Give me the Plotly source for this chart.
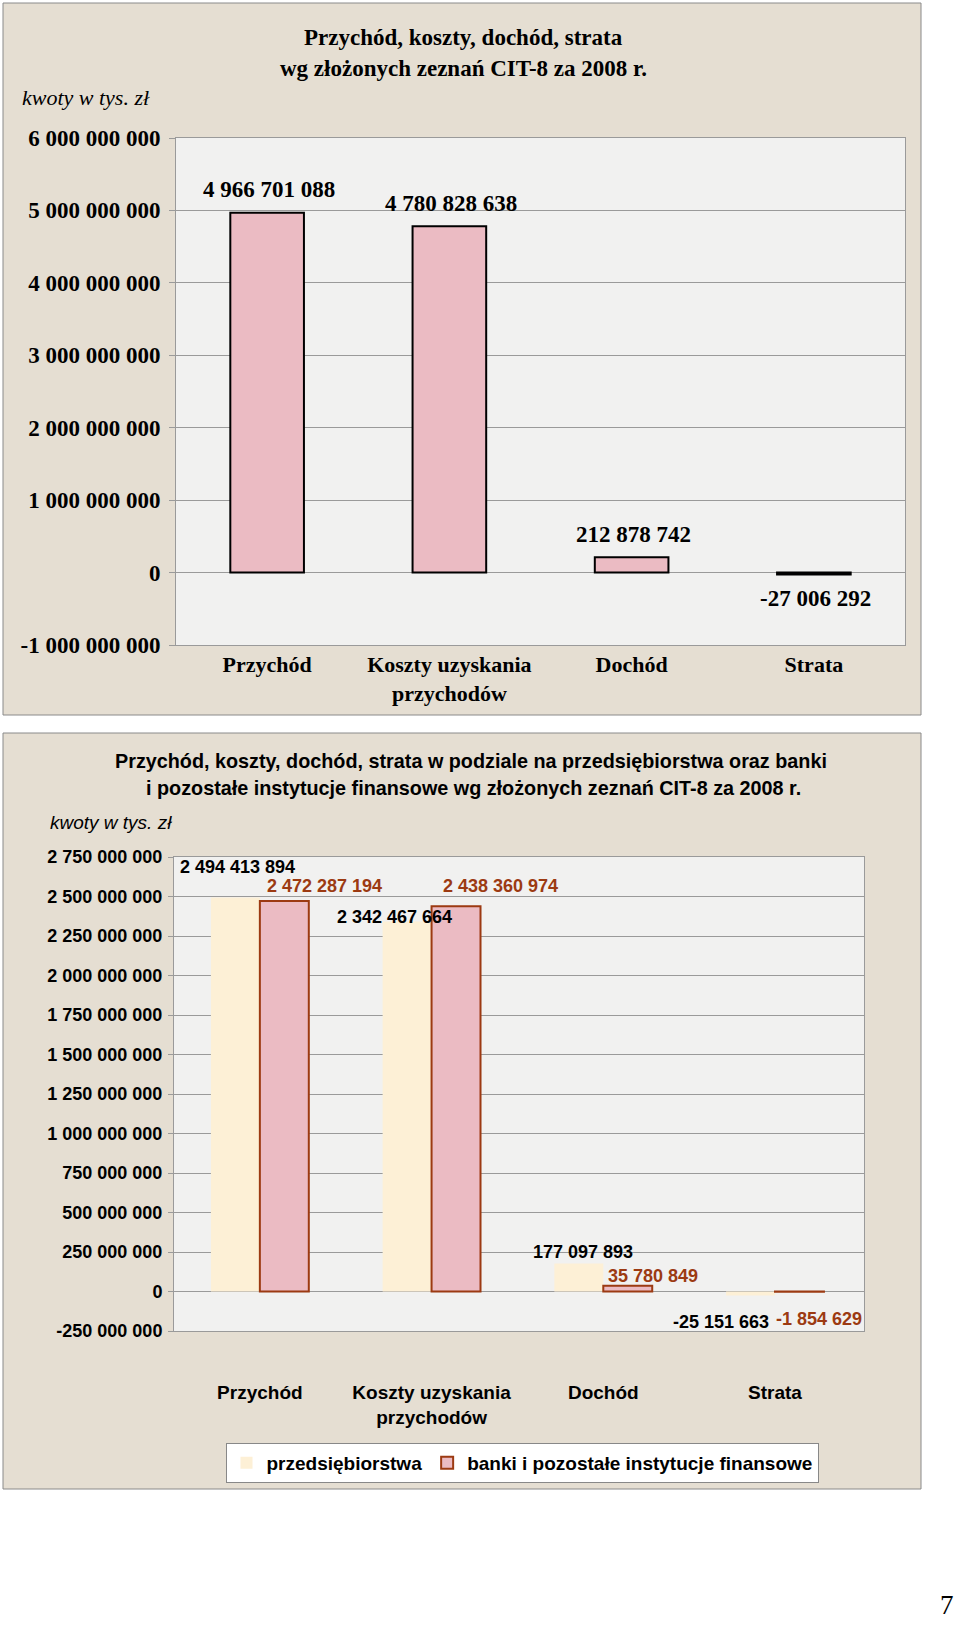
import plotly.graph_objects as go

# dane (kwoty w tys. zł)
categories = ["Przychód", "Koszty uzyskania<br>przychodów", "Dochód", "Strata"]
totals = [4966701088, 4780828638, 212878742, -27006292]

series_names = ["przedsiębiorstwa", "banki i pozostałe instytucje finansowe"]
przedsiebiorstwa = [2494413894, 2342467664, 177097893, -25151663]
banki = [2472287194, 2438360974, 35780849, -1854629]

top_ticks = [-1000000000, 0, 1000000000, 2000000000, 3000000000,
             4000000000, 5000000000, 6000000000]
bottom_ticks = [-250000000, 0, 250000000, 500000000, 750000000, 1000000000,
                1250000000, 1500000000, 1750000000, 2000000000, 2250000000,
                2500000000, 2750000000]

BEIGE = "#e5ded2"
PLOT_BG = "#f1f1f0"
GRID = "#9a9a9a"
PINK = "#ebbbc3"
CREAM = "#fdf0d6"
BROWN = "#9c3a12"
SERIF = "Liberation Serif"
SANS = "Liberation Sans"


def fmt(v):
    return f"{v:,}".replace(",", " ")


def paper_text(x, y, text, font, xanchor="center"):
    # tekst w pikselach strony (od lewego górnego rogu)
    return dict(x=x / 960, y=1 - y / 1625, xref="paper", yref="paper",
                showarrow=False, text=text, font=font,
                xanchor=xanchor, yanchor="middle")


fig = go.Figure()

# wykres górny
fig.add_trace(go.Bar(
    x=categories, y=totals, xaxis="x", yaxis="y", width=0.404,
    marker=dict(color=PINK, line=dict(color="black", width=2)),
    showlegend=False, hoverinfo="skip"))

# wykres dolny
fig.add_trace(go.Bar(
    x=categories, y=przedsiebiorstwa, name=series_names[0], xaxis="x2", yaxis="y2",
    marker=dict(color=CREAM, line=dict(color=CREAM, width=0)), hoverinfo="skip"))
fig.add_trace(go.Bar(
    x=categories, y=banki, name=series_names[1], xaxis="x2", yaxis="y2",
    marker=dict(color=PINK, line=dict(color=BROWN, width=2)), hoverinfo="skip"))

annotations = []
for c, v in zip(categories, totals):
    annotations.append(dict(
        x=c, y=v, xref="x", yref="y", text=fmt(v), showarrow=False,
        yanchor="middle", yshift=23 if v > 0 else -24, xshift=2,
        font=dict(family=SERIF, size=23, color="black", weight="bold")))

# przesunięcia etykiet (px) jak w oryginale
shift_p = [(-22, 30), (-37, 4), (-20, 12), (-54, -27)]
shift_b = [(65, 15), (69, 20), (50, 10), (44, -27)]
for c, v, s in zip(categories, przedsiebiorstwa, shift_p):
    annotations.append(dict(
        x=c, y=v, xref="x2", yref="y2", text=fmt(v), showarrow=False,
        yanchor="middle", xshift=s[0], yshift=s[1],
        font=dict(family=SANS, size=18, color="black", weight="bold")))
for c, v, s in zip(categories, banki, shift_b):
    annotations.append(dict(
        x=c, y=v, xref="x2", yref="y2", text=fmt(v), showarrow=False,
        yanchor="middle", xshift=s[0], yshift=s[1],
        font=dict(family=SANS, size=18, color=BROWN, weight="bold")))

serif_b = dict(family=SERIF, size=23, color="black", weight="bold")
sans_b = dict(family=SANS, size=19.8, color="black", weight="bold")

# tytuły i podpisy
annotations += [
    paper_text(463, 38, "Przychód, koszty, dochód, strata", serif_b),
    paper_text(463, 68, "wg złożonych zeznań CIT-8 za 2008 r.", serif_b),
    paper_text(20, 98, "<i>kwoty w tys. zł</i>",
               dict(family=SERIF, size=22, color="black"), "left"),
    paper_text(471, 761, "Przychód, koszty, dochód, strata w podziale na "
               "przedsiębiorstwa oraz banki", sans_b),
    paper_text(473, 788, "i pozostałe instytucje finansowe wg złożonych "
               "zeznań CIT-8 za 2008 r.", sans_b),
    paper_text(48, 823, "<i>kwoty w tys. zł</i>",
               dict(family=SANS, size=19, color="black"), "left"),
    paper_text(956, 1605, "7", dict(family=SERIF, size=27, color="black"), "right"),
]

shapes = [
    dict(type="rect", xref="paper", yref="paper", layer="below",
         x0=3 / 960, x1=921 / 960, y0=1 - 715 / 1625, y1=1 - 3 / 1625,
         fillcolor=BEIGE, line=dict(color="#8a8a8a", width=1)),
    dict(type="rect", xref="paper", yref="paper", layer="below",
         x0=3 / 960, x1=921 / 960, y0=1 - 1489 / 1625, y1=1 - 733 / 1625,
         fillcolor=BEIGE, line=dict(color="#8a8a8a", width=1)),
    dict(type="rect", xref="x domain", yref="y domain", layer="below",
         x0=0, x1=1, y0=0, y1=1, fillcolor=PLOT_BG, line=dict(width=0)),
    dict(type="rect", xref="x2 domain", yref="y2 domain", layer="below",
         x0=0, x1=1, y0=0, y1=1, fillcolor=PLOT_BG, line=dict(width=0)),
]

axis_common = dict(showline=True, linecolor=GRID, linewidth=1, mirror=True,
                   automargin=False)

fig.update_layout(
    width=960, height=1625,
    margin=dict(l=0, r=0, t=0, b=0, autoexpand=False),
    paper_bgcolor="white", plot_bgcolor="rgba(0,0,0,0)",
    separators=", ",
    barmode="group", bargap=0.43, bargroupgap=0,
    annotations=annotations, shapes=shapes,
    xaxis=dict(domain=[176 / 960, 905 / 960], anchor="y", ticks="",
               tickfont=dict(family=SERIF, size=22, color="black", weight="bold"),
               showgrid=False, **axis_common),
    yaxis=dict(domain=[1 - 645 / 1625, 1 - 138 / 1625], anchor="x",
               range=[-1000000000, 6000000000], tickvals=top_ticks,
               ticktext=[fmt(v) for v in top_ticks],
               ticks="outside", ticklen=6, tickcolor=GRID, ticklabelstandoff=4,
               tickfont=dict(family=SERIF, size=23, color="black", weight="bold"),
               gridcolor=GRID, gridwidth=1, zeroline=True, zerolinecolor=GRID,
               zerolinewidth=1, **axis_common),
    xaxis2=dict(domain=[174 / 960, 864 / 960], anchor="y2", ticks="",
                ticklabelstandoff=44,
                tickfont=dict(family=SANS, size=19, color="black", weight="bold"),
                showgrid=False, **axis_common),
    yaxis2=dict(domain=[1 - 1331 / 1625, 1 - 857 / 1625], anchor="x2",
                range=[-250000000, 2750000000], tickvals=bottom_ticks,
                ticktext=[fmt(v) for v in bottom_ticks],
                ticks="outside", ticklen=5, tickcolor=GRID, ticklabelstandoff=2,
                tickfont=dict(family=SANS, size=18, color="black", weight="bold"),
                gridcolor=GRID, gridwidth=1, zeroline=True, zerolinecolor=GRID,
                zerolinewidth=1, **axis_common),
    legend=dict(orientation="h", x=522 / 960, y=1 - 1463 / 1625,
                xanchor="center", yanchor="middle",
                bgcolor="white", bordercolor="#888888", borderwidth=1,
                font=dict(family=SANS, size=19, color="black", weight="bold"),
                itemwidth=30, tracegroupgap=0),
)

fig.write_html(
    "out.html",
    config={"displayModeBar": False},
    post_script="document.body.style.margin='0';"
                "document.body.style.overflow='hidden';"
                "document.documentElement.style.overflow='hidden';")
